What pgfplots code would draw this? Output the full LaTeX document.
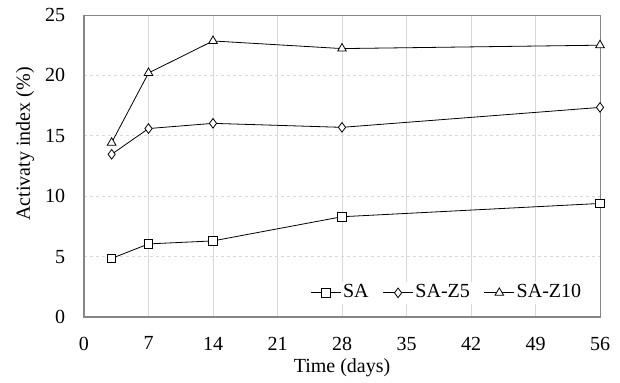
\documentclass[border=0pt]{standalone}
\usepackage{pgfplots}
\pgfplotsset{compat=1.18}
\usepackage{fontspec}
\setmainfont{Liberation Serif}
\definecolor{gridc}{RGB}{217,217,217}
\definecolor{axc}{RGB}{134,134,134}
\begin{document}
\fontsize{20bp}{24bp}\selectfont
\begin{tikzpicture}
\begin{axis}[
  scale only axis, width=516bp, height=302bp,
  xmin=0, xmax=56, ymin=0, ymax=25,
  xtick={0,7,...,56}, ytick={0,5,...,25},
  /pgf/number format/assume math mode=true,
  tick label style={font=\fontsize{20bp}{24bp}\selectfont},
  label style={font=\fontsize{20bp}{24bp}\selectfont},
  major tick length=0pt,
  axis line style={draw=axc, line width=0.9bp},
  xmajorgrids, ymajorgrids,
  x grid style={draw=gridc, line width=0.9bp},
  y grid style={draw=gridc, dashed, line width=0.9bp},
  xlabel={Time (days)}, ylabel={Activaty index (\%)},
  xlabel style={at={(axis description cs:0.5,0)}, anchor=north, yshift=-35bp},
  ylabel style={at={(axis description cs:0,0.573)}, anchor=south, yshift=43bp},
  xticklabel style={yshift=-13bp},
  yticklabel style={xshift=-12bp},
  legend style={draw=none, fill=white, inner sep=1bp, at={(axis cs:54.3,2.0)}, anchor=east,
    font=\fontsize{20bp}{24bp}\selectfont, legend columns=3,
    /tikz/every even column/.append style={column sep=12bp},
    /tikz/every odd column/.append style={column sep=0bp}},
  legend image code/.code={\draw[mark repeat=2,mark phase=2] plot coordinates {(0bp,0bp) (15bp,0bp) (30bp,0bp)};},
  every axis plot/.append style={black, line width=0.8bp, mark options={solid, fill=white, line width=0.8bp}},
  after end axis/.code={\draw[axc, line width=1.6bp] (rel axis cs:0,1) -- (rel axis cs:0,0) -- (rel axis cs:1,0);},
]
\addplot[mark=square*, mark size=4.2bp] coordinates {(3,4.85) (7,6.05) (14,6.3) (28,8.3) (56,9.4)};
\addlegendentry{SA}
\addplot[mark=diamond*, mark size=4.8bp] coordinates {(3,13.47) (7,15.6) (14,16.03) (28,15.7) (56,17.35)};
\addlegendentry{SA-Z5}
\addplot[mark=triangle*, mark size=5bp] coordinates {(3,14.43) (7,20.2) (14,22.85) (28,22.22) (56,22.5)};
\addlegendentry{SA-Z10}
\end{axis}
\pgfresetboundingbox
\path (-84bp,-66bp) rectangle (536bp,317bp);
\end{tikzpicture}
\end{document}
